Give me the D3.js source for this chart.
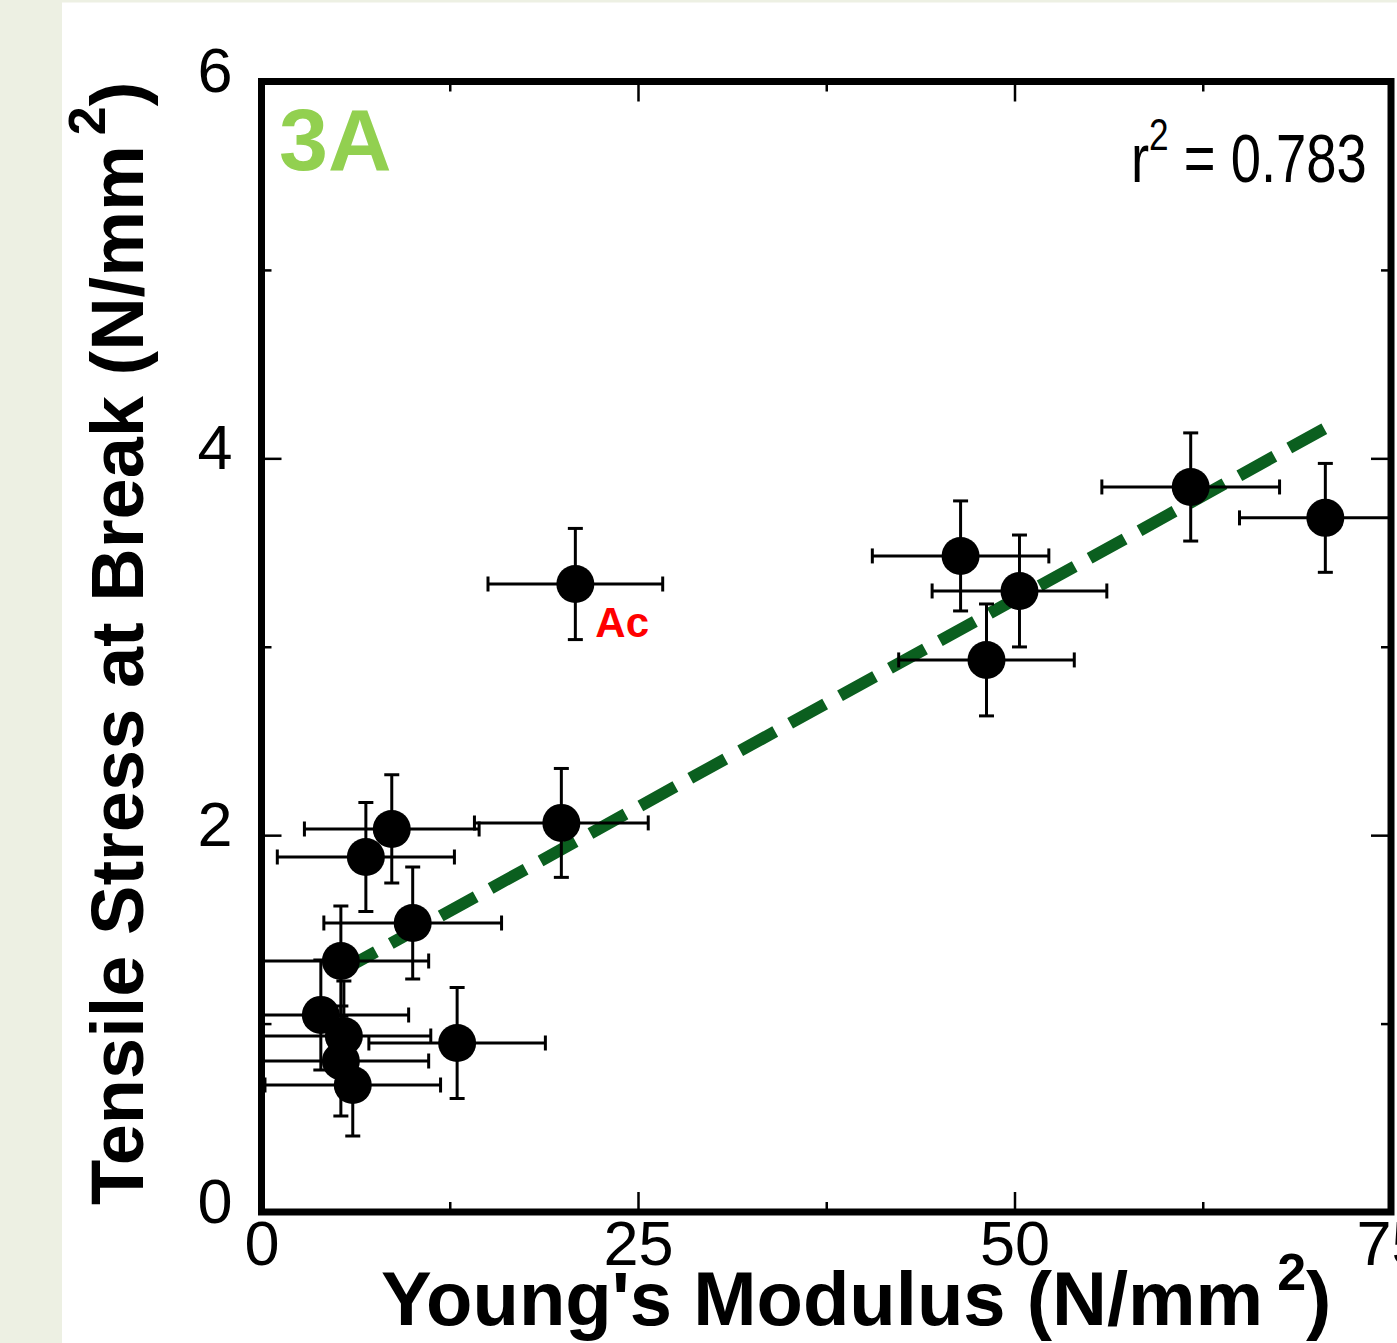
<!DOCTYPE html>
<html>
<head>
<meta charset="utf-8">
<script src="https://cdn.jsdelivr.net/npm/d3@7"></script>
<style>
  body { margin: 0; background: #fff; }
  text { font-family: "Liberation Sans", Arial, sans-serif; }
</style>
</head>
<body>
<svg id="chart"></svg>
<script>
"use strict";

// values
var youngs     = [20.84, 61.70, 70.64, 46.42, 50.33, 48.14, 19.91, 8.65, 6.93, 10.04, 5.27, 3.94, 5.47, 5.27, 6.06, 12.99];
var youngsErr  = [5.80, 5.90, 5.70, 5.86, 5.80, 5.83, 5.77, 5.80, 5.88, 5.90, 5.83, 5.83, 5.77, 5.83, 5.83, 5.86];
var tensile    = [3.333, 3.848, 3.684, 3.482, 3.296, 2.930, 2.065, 2.033, 1.884, 1.534, 1.332, 1.046, 0.934, 0.801, 0.674, 0.897];
var tensileErr = [0.295, 0.287, 0.289, 0.292, 0.297, 0.297, 0.289, 0.287, 0.289, 0.297, 0.292, 0.292, 0.292, 0.292, 0.271, 0.295];
var pointLabels = ["Ac", "", "", "", "", "", "", "", "", "", "", "", "", "", "", ""];

// regression line end points
var fitX = [5.27, 71.03];
var fitY = [1.279, 4.177];

var xMajor = [0, 25, 50, 75];
var xMinor = [12.5, 37.5, 62.5];
var yMajor = [0, 2, 4, 6];
var yMinor = [1, 3, 5];

var W = 1397, H = 1343;

var svg = d3.select("#chart").attr("width", W).attr("height", H);

// page background with the pale strips of the slide
svg.append("rect").attr("width", W).attr("height", H).attr("fill", "#ffffff");
svg.append("rect").attr("x", 0).attr("y", 0).attr("width", 62).attr("height", H).attr("fill", "#edf0e3");
svg.append("rect").attr("x", 0).attr("y", 0).attr("width", W).attr("height", 2.5).attr("fill", "#edf0e3");

var x = d3.scaleLinear().domain([0, 75]).range([261.5, 1391]);
var y = d3.scaleLinear().domain([0, 6]).range([1212, 81.5]);

function styleAxis(g) {
    g.select(".domain").remove();
    g.selectAll(".tick line").attr("stroke", "#000").attr("stroke-width", 2.5);
    g.selectAll("text").attr("fill", "#000").attr("font-size", 63).attr("font-family", "Liberation Sans, Arial, sans-serif");
}

// bottom axis with labels
svg.append("g")
    .attr("transform", "translate(0," + y(0) + ")")
    .call(d3.axisBottom(x).tickValues(xMajor).tickSize(-20).tickPadding(8).tickFormat(d3.format("d")))
    .call(styleAxis);
svg.append("g")
    .attr("transform", "translate(0," + y(0) + ")")
    .call(d3.axisBottom(x).tickValues(xMinor).tickSize(-10).tickFormat(""))
    .call(styleAxis);

// top ticks
svg.append("g")
    .attr("transform", "translate(0," + y(6) + ")")
    .call(d3.axisTop(x).tickValues(xMajor).tickSize(-20).tickFormat(""))
    .call(styleAxis);
svg.append("g")
    .attr("transform", "translate(0," + y(6) + ")")
    .call(d3.axisTop(x).tickValues(xMinor).tickSize(-10).tickFormat(""))
    .call(styleAxis);

// left axis with labels
var yAx = svg.append("g")
    .attr("transform", "translate(" + x(0) + ",0)")
    .call(d3.axisLeft(y).tickValues(yMajor).tickSize(-20).tickPadding(29).tickFormat(d3.format("d")))
    .call(styleAxis);
yAx.selectAll("text").attr("dy", "0").attr("y", 10);
svg.append("g")
    .attr("transform", "translate(" + x(0) + ",0)")
    .call(d3.axisLeft(y).tickValues(yMinor).tickSize(-10).tickFormat(""))
    .call(styleAxis);

// right ticks
svg.append("g")
    .attr("transform", "translate(" + x(75) + ",0)")
    .call(d3.axisRight(y).tickValues(yMajor).tickSize(-20).tickFormat(""))
    .call(styleAxis);
svg.append("g")
    .attr("transform", "translate(" + x(75) + ",0)")
    .call(d3.axisRight(y).tickValues(yMinor).tickSize(-10).tickFormat(""))
    .call(styleAxis);

// clip everything to the plot box
svg.append("clipPath").attr("id", "plotClip")
  .append("rect")
    .attr("x", x(0)).attr("y", y(6))
    .attr("width", x(75) - x(0)).attr("height", y(0) - y(6));

var data = youngs.map(function(v, i) {
    return { x: v, xe: youngsErr[i], y: tensile[i], ye: tensileErr[i], label: pointLabels[i] };
});

var plot = svg.append("g").attr("clip-path", "url(#plotClip)");

// regression line (dashed green)
var fit = fitX.map(function(v, i) { return [v, fitY[i]]; });
plot.append("path")
    .datum(fit)
    .attr("d", d3.line().x(function(d) { return x(d[0]); }).y(function(d) { return y(d[1]); }))
    .attr("fill", "none")
    .attr("stroke", "#0b5f1f")
    .attr("stroke-width", 12)
    .attr("stroke-dasharray", "40,17");

// error bars
var cap = 7.5;
var bars = plot.selectAll(".err").data(data).enter().append("g").attr("class", "err")
    .attr("stroke", "#000").attr("stroke-width", 3).attr("fill", "none");

bars.append("line")
    .attr("x1", function(d) { return x(d.x - d.xe); })
    .attr("x2", function(d) { return x(d.x + d.xe); })
    .attr("y1", function(d) { return y(d.y); })
    .attr("y2", function(d) { return y(d.y); });
bars.append("line")
    .attr("x1", function(d) { return x(d.x - d.xe); })
    .attr("x2", function(d) { return x(d.x - d.xe); })
    .attr("y1", function(d) { return y(d.y) - cap; })
    .attr("y2", function(d) { return y(d.y) + cap; });
bars.append("line")
    .attr("x1", function(d) { return x(d.x + d.xe); })
    .attr("x2", function(d) { return x(d.x + d.xe); })
    .attr("y1", function(d) { return y(d.y) - cap; })
    .attr("y2", function(d) { return y(d.y) + cap; });
bars.append("line")
    .attr("x1", function(d) { return x(d.x); })
    .attr("x2", function(d) { return x(d.x); })
    .attr("y1", function(d) { return y(d.y - d.ye); })
    .attr("y2", function(d) { return y(d.y + d.ye); });
bars.append("line")
    .attr("x1", function(d) { return x(d.x) - cap; })
    .attr("x2", function(d) { return x(d.x) + cap; })
    .attr("y1", function(d) { return y(d.y + d.ye); })
    .attr("y2", function(d) { return y(d.y + d.ye); });
bars.append("line")
    .attr("x1", function(d) { return x(d.x) - cap; })
    .attr("x2", function(d) { return x(d.x) + cap; })
    .attr("y1", function(d) { return y(d.y - d.ye); })
    .attr("y2", function(d) { return y(d.y - d.ye); });

// markers
plot.selectAll(".dot").data(data).enter().append("circle")
    .attr("class", "dot")
    .attr("cx", function(d) { return x(d.x); })
    .attr("cy", function(d) { return y(d.y); })
    .attr("r", 19)
    .attr("fill", "#000");

// point labels
svg.selectAll(".plabel").data(data.filter(function(d) { return d.label; })).enter().append("text")
    .attr("class", "plabel")
    .attr("x", function(d) { return x(d.x) + 20; })
    .attr("y", function(d) { return y(d.y) + 53; })
    .attr("font-size", 42)
    .attr("font-weight", "bold")
    .attr("fill", "#ff0000")
    .text(function(d) { return d.label; });

// plot frame
svg.append("rect")
    .attr("x", x(0)).attr("y", y(6))
    .attr("width", x(75) - x(0)).attr("height", y(0) - y(6))
    .attr("fill", "none").attr("stroke", "#000").attr("stroke-width", 7);

// panel tag
svg.append("text")
    .attr("x", 279).attr("y", 170)
    .attr("font-family", "Open Sans, sans-serif")
    .attr("font-weight", "bold")
    .attr("font-size", 88)
    .attr("fill", "#92d050")
    .text("3A");

// r squared
var r2 = svg.append("text")
    .attr("transform", "translate(1131,182) scale(0.8,1)")
    .attr("font-size", 68)
    .attr("fill", "#000");
r2.append("tspan").text("r");
r2.append("tspan").attr("dy", -32).attr("font-size", 44).text("2");
r2.append("tspan").attr("dy", 32).text(" = 0.783");

// x title
var xt = svg.append("text")
    .attr("x", 381).attr("y", 1325)
    .attr("font-size", 76)
    .attr("font-weight", "bold")
    .attr("fill", "#000");
xt.append("tspan").text("Young's Modulus (N/mm");
xt.append("tspan").attr("dx", 14).attr("dy", -35).attr("font-size", 52).text("2");
xt.append("tspan").attr("dy", 35).text(")");

// y title
var yt = svg.append("text")
    .attr("transform", "translate(143,1205) rotate(-90)")
    .attr("font-size", 74)
    .attr("font-weight", "bold")
    .attr("fill", "#000");
yt.append("tspan").text("Tensile Stress at Break (N/mm");
yt.append("tspan").attr("dx", 10).attr("dy", -38).attr("font-size", 52).text("2");
yt.append("tspan").attr("dy", 38).text(")");
</script>
</body>
</html>
